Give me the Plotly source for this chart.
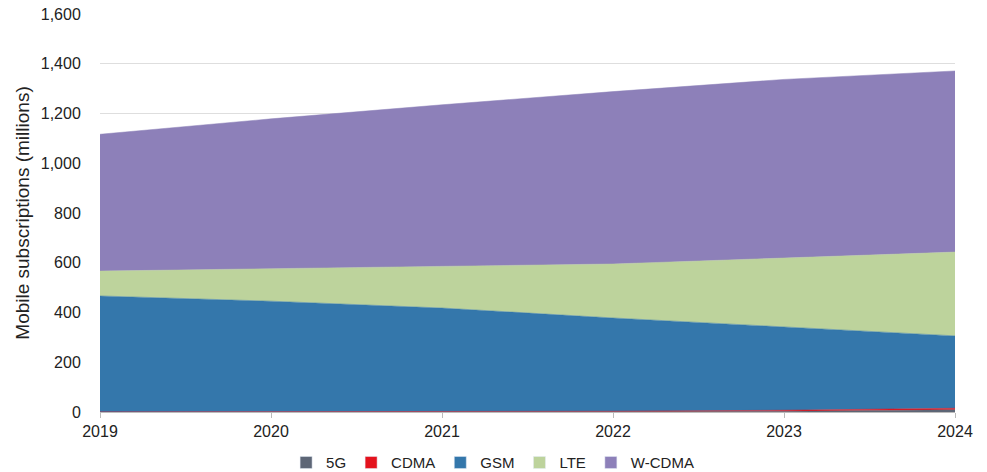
import plotly.graph_objects as go

years = [2019, 2020, 2021, 2022, 2023, 2024]

# millions of subscriptions
sub_5g = [0, 0, 0, 1, 3, 9]
sub_cdma = [0.5, 0.5, 1, 2, 4, 6]
sub_gsm = [466, 445, 417, 375, 335, 291]
sub_lte = [100, 130, 165, 217, 277, 337]
sub_wcdma = [550, 603, 652, 693, 718, 728]

series = [
    ("5G", sub_5g, "#5d6676"),
    ("CDMA", sub_cdma, "#e4121d"),
    ("GSM", sub_gsm, "#3477ab"),
    ("LTE", sub_lte, "#bdd39c"),
    ("W-CDMA", sub_wcdma, "#8d80b9"),
]

fig = go.Figure()
for name, vals, col in series:
    fig.add_trace(go.Scatter(
        x=years, y=vals, name=name, mode="lines", stackgroup="one",
        line=dict(width=0.5, color=col), fillcolor=col, showlegend=False,
    ))
# square legend swatches
for name, vals, col in series:
    fig.add_trace(go.Bar(x=[None], y=[None], name=name, marker_color=col))

# page body adds an 8px offset, so the figure is a bit smaller than the window
fig.update_layout(
    width=979, height=464,
    margin=dict(l=92, r=32, t=6, b=60, autoexpand=False),
    plot_bgcolor="white", paper_bgcolor="white",
    font=dict(family="Liberation Sans, Arial, sans-serif", size=16, color="#222"),
    legend=dict(orientation="h", xref="container", yref="container",
                x=0.495, xanchor="center", y=0.02, yanchor="middle",
                font=dict(size=15), traceorder="normal", itemwidth=30),
    xaxis=dict(range=[2019, 2024], tickvals=years, ticks="outside", ticklen=5,
               tickcolor="#bbb", showline=True, linecolor="#bbb", showgrid=False,
               zeroline=False, automargin=False),
    yaxis=dict(range=[0, 1600], dtick=200, tickformat=",", showgrid=True,
               gridcolor="#dedede", zeroline=False, ticks="outside", ticklen=15,
               tickcolor="rgba(0,0,0,0)", automargin=False,
               ticklabeloverflow="allow",
               title=dict(text="Mobile subscriptions (millions)", standoff=6)),
)

fig.write_html("out.html")
